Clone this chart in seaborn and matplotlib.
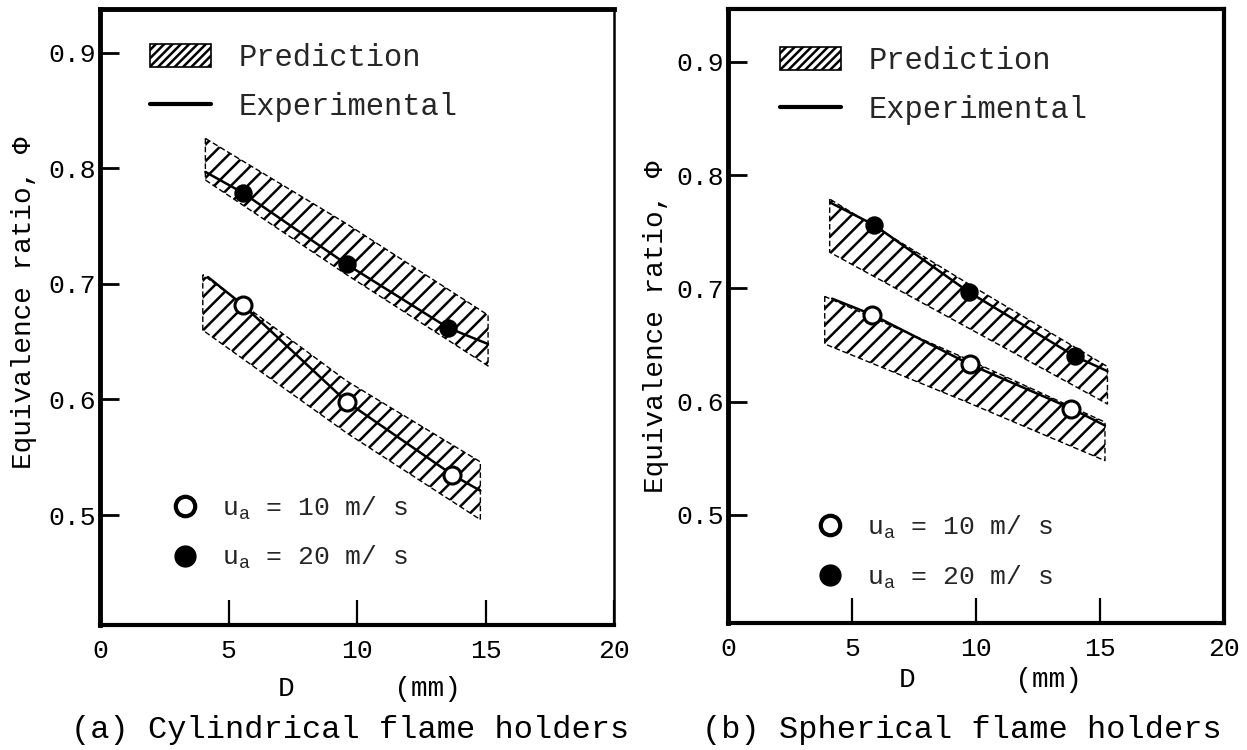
import numpy as np
import pandas as pd
import seaborn as sns
import matplotlib
matplotlib.use("Agg")
import matplotlib.pyplot as plt
from matplotlib.patches import Patch
from matplotlib.lines import Line2D

sns.set_theme(style="white")
plt.rcParams["font.family"] = ["Liberation Mono", "DejaVu Sans Mono"]
plt.rcParams["mathtext.fontset"] = "custom"
plt.rcParams["mathtext.rm"] = "Liberation Mono"
plt.rcParams["mathtext.it"] = "Liberation Mono"
plt.rcParams["hatch.linewidth"] = 1.8
plt.rcParams["hatch.color"] = "black"

# ---------------- data ----------------
# (a) Cylindrical flame holders
a_pts_d10 = [5.55, 9.6, 13.7]
a_pts_phi10 = [0.682, 0.598, 0.535]
a_pts_d20 = [5.55, 9.6, 13.55]
a_pts_phi20 = [0.779, 0.717, 0.662]
a_exp_d10 = [4.2, 5.55, 9.6, 13.7, 14.8]
a_exp_phi10 = [0.706, 0.682, 0.598, 0.535, 0.521]
a_exp_d20 = [4.1, 5.55, 9.6, 13.55, 15.1]
a_exp_phi20 = [0.797, 0.779, 0.717, 0.662, 0.648]
a_band_d10 = [4.0, 9.6, 14.8]
a_band_hi10 = [0.708, 0.616, 0.546]
a_band_lo10 = [0.660, 0.571, 0.496]
a_band_d20 = [4.1, 9.6, 15.1]
a_band_hi20 = [0.826, 0.752, 0.673]
a_band_lo20 = [0.790, 0.708, 0.629]

# (b) Spherical flame holders
b_pts_d10 = [5.8, 9.75, 13.85]
b_pts_phi10 = [0.677, 0.633, 0.594]
b_pts_d20 = [5.9, 9.7, 14.0]
b_pts_phi20 = [0.756, 0.697, 0.640]
b_exp_d10 = [4.2, 5.8, 9.75, 13.85, 15.2]
b_exp_phi10 = [0.691, 0.677, 0.633, 0.594, 0.579]
b_exp_d20 = [4.2, 5.9, 9.7, 14.0, 15.3]
b_exp_phi20 = [0.775, 0.756, 0.697, 0.640, 0.627]
b_band_d10 = [3.9, 9.6, 15.2]
b_band_hi10 = [0.693, 0.638, 0.582]
b_band_lo10 = [0.651, 0.600, 0.548]
b_band_d20 = [4.1, 9.7, 15.3]
b_band_hi20 = [0.779, 0.704, 0.631]
b_band_lo20 = [0.732, 0.665, 0.598]

x_ticks = [0, 5, 10, 15, 20]
y_ticks = [0.5, 0.6, 0.7, 0.8, 0.9]
captions = ["(a) Cylindrical flame holders", "(b) Spherical flame holders"]
legend_top = ["Prediction", "Experimental"]
legend_pts = ["u$_\\mathregular{a}$ = 10 m/ s", "u$_\\mathregular{a}$ = 20 m/ s"]

W, H = 1247, 750
fig = plt.figure(figsize=(W / 100, H / 100), dpi=100)


def px_axes(x0, x1, ytop, ybot):
    return fig.add_axes([x0 / W, 1 - ybot / H, (x1 - x0) / W, (ybot - ytop) / H])


ax_a = px_axes(100, 614, 9, 625)
ax_b = px_axes(728, 1224, 9, 623)

panels = [
    dict(ax=ax_a, ylim=(0.4048, 0.938),
         bands=[(a_band_d20, a_band_lo20, a_band_hi20), (a_band_d10, a_band_lo10, a_band_hi10)],
         lines=[(a_exp_d20, a_exp_phi20), (a_exp_d10, a_exp_phi10)],
         p10=(a_pts_d10, a_pts_phi10), p20=(a_pts_d20, a_pts_phi20),
         spines=dict(left=3.5, bottom=3.0, top=3.5, right=1.8),
         leg1=(0.097, 0.945), leg2=(0.14, 0.212), ylab_x=-0.122, ylab_y=0.523,
         xlab_x=0.525, xlab_y=-0.082, cap_x=350),
    dict(ax=ax_b, ylim=(0.4046, 0.9468),
         bands=[(b_band_d20, b_band_lo20, b_band_hi20), (b_band_d10, b_band_lo10, b_band_hi10)],
         lines=[(b_exp_d20, b_exp_phi20), (b_exp_d10, b_exp_phi10)],
         p10=(b_pts_d10, b_pts_phi10), p20=(b_pts_d20, b_pts_phi20),
         spines=dict(left=3.5, bottom=3.0, top=3.0, right=3.0),
         leg1=(0.105, 0.94), leg2=(0.18, 0.178), ylab_x=-0.118, ylab_y=0.482,
         xlab_x=0.53, xlab_y=-0.072, cap_x=962),
]

for i, p in enumerate(panels):
    ax = p["ax"]
    for d, lo, hi in p["bands"]:
        ax.fill_between(d, lo, hi, facecolor="none", edgecolor="black",
                        hatch="//", linewidth=1.0, linestyle=(0, (4, 2)), zorder=1)
    for d, v in p["lines"]:
        sns.lineplot(x=d, y=v, ax=ax, color="black", linewidth=1.8,
                     estimator=None, sort=False, zorder=3)
    d10, v10 = p["p10"]
    d20, v20 = p["p20"]
    sns.scatterplot(x=d10, y=v10, ax=ax, s=150, marker="o", facecolor="white",
                    edgecolor="black", linewidth=2.2, zorder=4)
    sns.scatterplot(x=d20, y=v20, ax=ax, s=150, marker="o", color="black",
                    edgecolor="black", linewidth=1, zorder=4)

    ax.set_xlim(0, 20)
    ax.set_ylim(*p["ylim"])
    ax.set_xticks(x_ticks)
    ax.set_xticklabels([str(t) for t in x_ticks])
    ax.set_yticks(y_ticks)
    ax.set_yticklabels([f"{t:.1f}" for t in y_ticks])
    ax.tick_params(axis="x", direction="in", length=18, width=1.6, pad=10,
                   labelsize=19, colors="black", bottom=True)
    ax.tick_params(axis="y", direction="in", length=14, width=2.0, pad=3,
                   labelsize=19, colors="black", left=True)
    for side, lw in p["spines"].items():
        ax.spines[side].set_visible(True)
        ax.spines[side].set_linewidth(lw)
        ax.spines[side].set_color("black")
    ax.grid(False)

    ax.set_ylabel("Equivalence ratio, \u03a6", fontsize=20, color="black")
    ax.yaxis.set_label_coords(p["ylab_x"], p["ylab_y"])
    ax.set_xlabel("D      (mm)", fontsize=20, color="black")
    ax.xaxis.set_label_coords(p["xlab_x"], p["xlab_y"])

    h1 = [Patch(facecolor="white", edgecolor="black", hatch="////", linewidth=1.2),
          Line2D([], [], color="black", linewidth=3)]
    leg1 = ax.legend(h1, legend_top, loc="upper left", bbox_to_anchor=p["leg1"],
                     frameon=False, fontsize=22, handlelength=2.0, handleheight=0.8,
                     handletextpad=0.9, labelspacing=0.62, borderpad=0, borderaxespad=0)
    ax.add_artist(leg1)
    h2 = [Line2D([], [], linestyle="none", marker="o", markersize=14,
                 markerfacecolor="white", markeredgecolor="black", markeredgewidth=3),
          Line2D([], [], linestyle="none", marker="o", markersize=15,
                 markerfacecolor="black", markeredgecolor="black")]
    ax.legend(h2, legend_pts, loc="upper left", bbox_to_anchor=p["leg2"],
              frameon=False, fontsize=19, handlelength=1.0, handletextpad=0.9,
              labelspacing=0.85, borderpad=0, borderaxespad=0)

    fig.text(p["cap_x"] / W, 1 - 730 / H, captions[i],
             fontsize=23, ha="center", va="center", color="black")

fig.savefig("out.png", dpi=100, facecolor="white")
